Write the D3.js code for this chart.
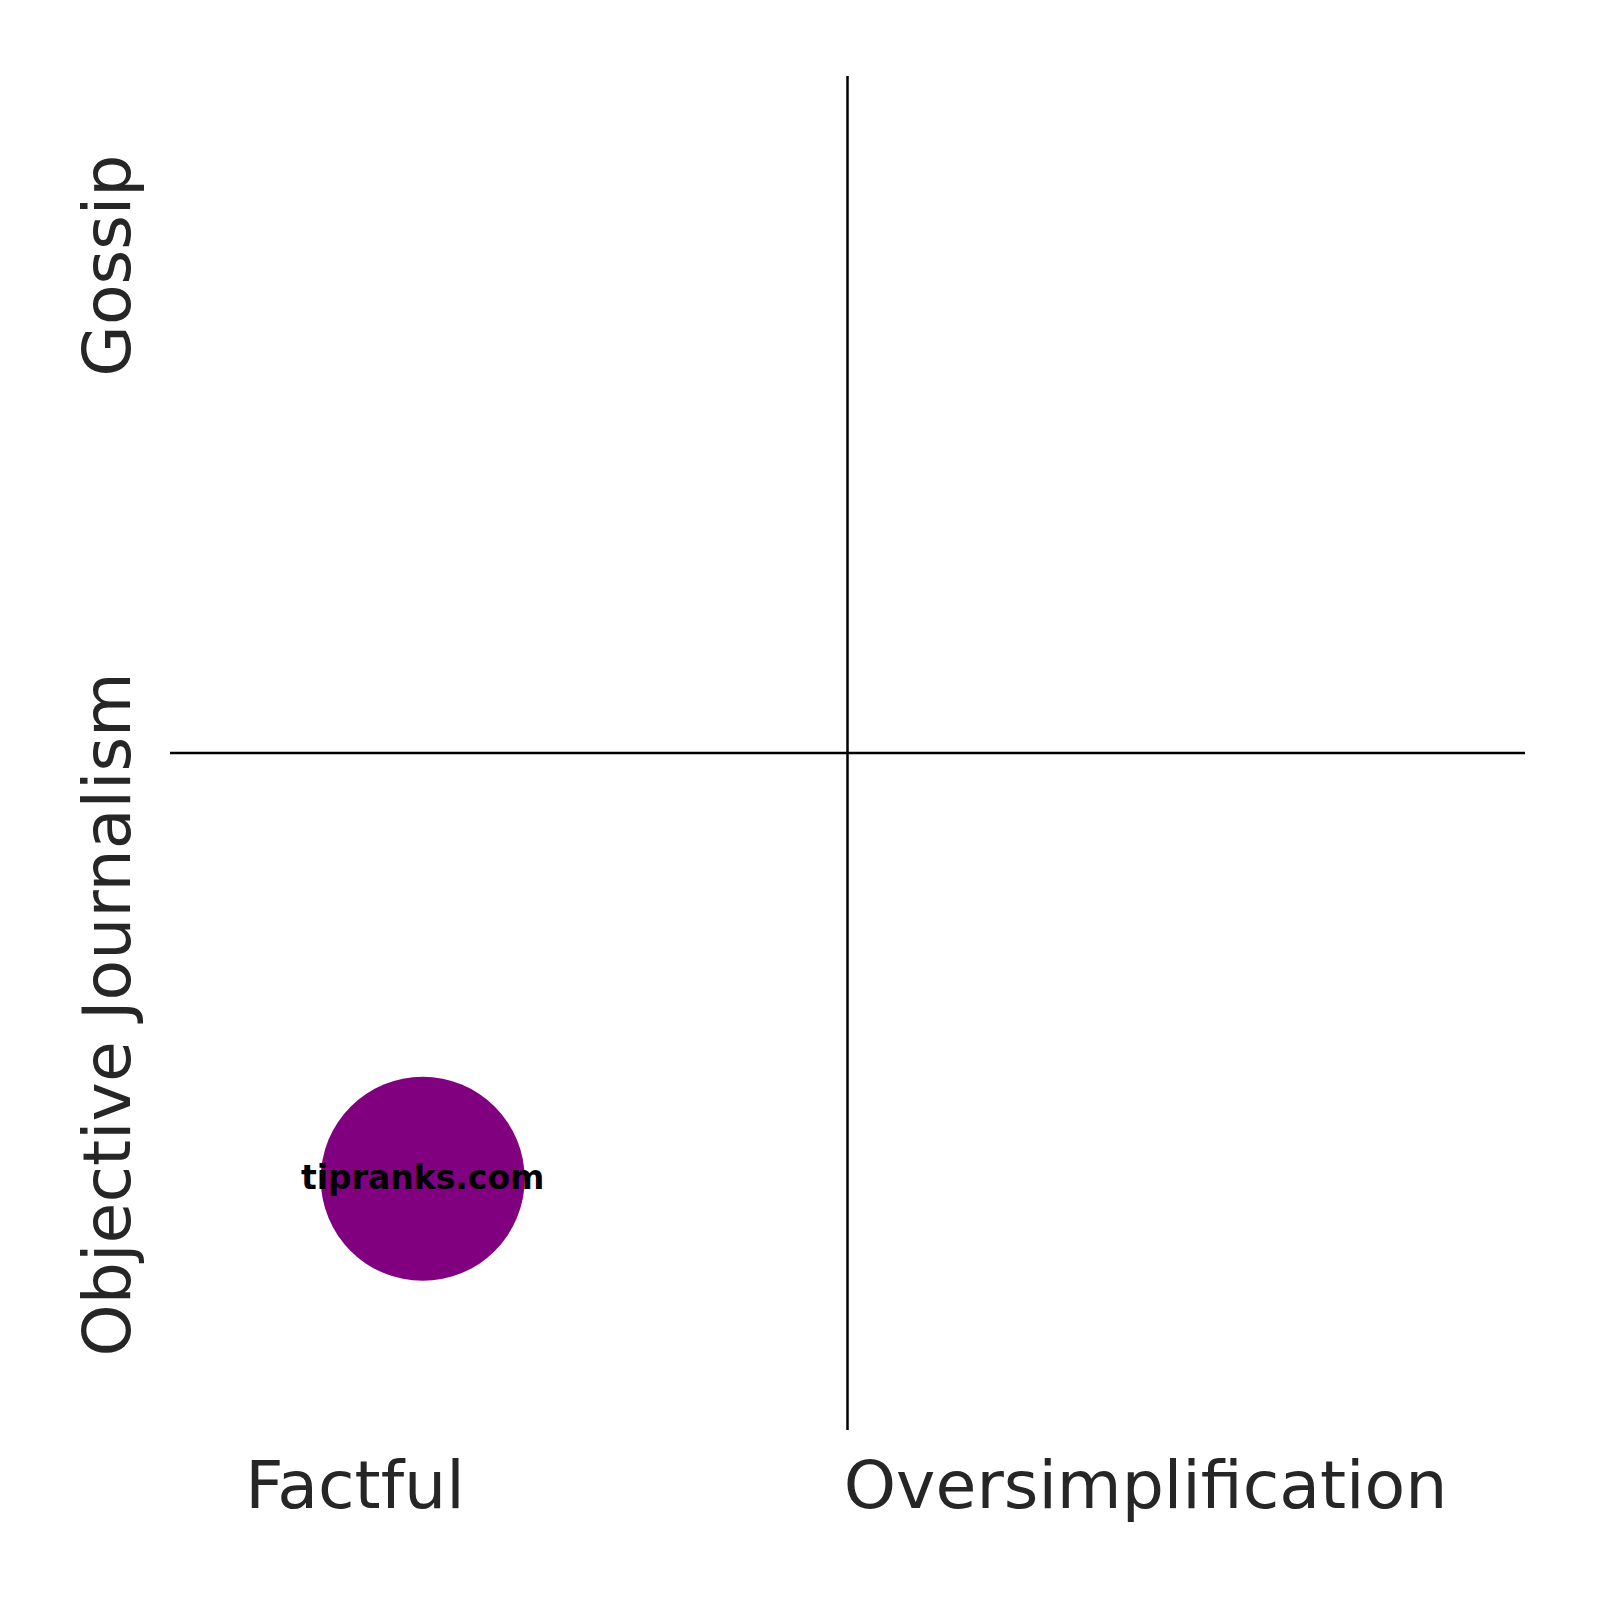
<!DOCTYPE html>
<html>
<head>
<meta charset="utf-8">
<script src="https://cdn.jsdelivr.net/npm/d3@7"></script>
<style>
  body { margin: 0; background: #fff; }
  svg { display: block; }
</style>
</head>
<body>
<div id="chart"></div>
<script>
// data
const sites = ['tipranks.com']
const factX = [-6.27]
const gossipY = [-6.29]
const xLabels = ['Factful', 'Oversimplification']
const xLabelPos = [-7.27, 4.4]
const yLabels = ['Gossip', 'Objective Journalism']
const yLabelPos = [7.2, -3.86]

const W = 1600, H = 1600
const plot = { left: 170, right: 1525, top: 76, bottom: 1430 }

const x = d3.scaleLinear().domain([-10, 10]).range([plot.left, plot.right])
const y = d3.scaleLinear().domain([-10, 10]).range([plot.bottom, plot.top])

const svg = d3.select('#chart')
  .append('svg')
  .attr('width', W)
  .attr('height', H)

const font = '"DejaVu Sans", sans-serif'

// quadrant lines
svg.append('line')
  .attr('x1', x(0)).attr('x2', x(0))
  .attr('y1', y(10)).attr('y2', y(-10))
  .attr('stroke', '#000').attr('stroke-width', 2.5)
svg.append('line')
  .attr('x1', x(-10)).attr('x2', x(10))
  .attr('y1', y(0)).attr('y2', y(0))
  .attr('stroke', '#000').attr('stroke-width', 2.5)

// bubbles
const pts = sites.map((s, i) => ({ label: s, x: factX[i], y: gossipY[i] }))
const g = svg.selectAll('g.site')
  .data(pts)
  .enter()
  .append('g')
  .attr('class', 'site')

g.append('circle')
  .attr('cx', d => x(d.x))
  .attr('cy', d => y(d.y))
  .attr('r', 102)
  .attr('fill', '#800080')

g.append('text')
  .attr('x', d => x(d.x))
  .attr('y', d => y(d.y))
  .attr('dy', '0.3em')
  .attr('text-anchor', 'middle')
  .attr('font-family', font)
  .attr('font-weight', 'bold')
  .attr('font-size', '33px')
  .attr('fill', '#000')
  .text(d => d.label)

// x labels
svg.selectAll('text.xlab')
  .data(xLabels)
  .enter()
  .append('text')
  .attr('class', 'xlab')
  .attr('x', (d, i) => x(xLabelPos[i]))
  .attr('y', 1508)
  .attr('text-anchor', 'middle')
  .attr('font-family', font)
  .attr('font-size', '66.5px')
  .attr('fill', '#262626')
  .text(d => d)

// y labels
svg.selectAll('text.ylab')
  .data(yLabels)
  .enter()
  .append('text')
  .attr('class', 'ylab')
  .attr('transform', (d, i) => 'translate(130,' + y(yLabelPos[i]) + ')rotate(-90)')
  .attr('text-anchor', 'middle')
  .attr('font-family', font)
  .attr('font-size', '66.5px')
  .attr('fill', '#262626')
  .text(d => d)
</script>
</body>
</html>
